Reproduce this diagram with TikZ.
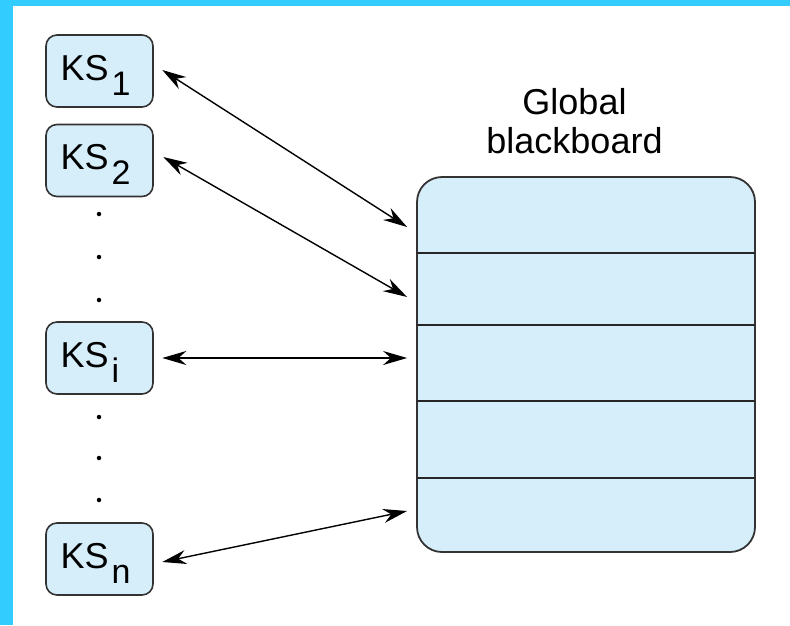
\documentclass[tikz,border=0pt]{standalone}
\usepackage{fontspec}
\setmainfont{Liberation Sans}
\usetikzlibrary{arrows.meta}
\definecolor{bandcyan}{HTML}{33CCFF}
\definecolor{boxfill}{HTML}{D6EEFA}
\definecolor{boxline}{HTML}{333333}
\newcommand\kssub[1]{\kern3pt\raisebox{-15pt}{\fontsize{34}{34}\selectfont #1}}
\tikzset{
  ksbox/.style={draw=boxline, fill=boxfill, line width=1.6pt, rounded corners=11pt,
    minimum width=107pt, minimum height=72pt, inner sep=0pt},
  kstext/.style={anchor=base west, inner sep=0pt, font=\fontsize{36}{40}\selectfont},
  bbbox/.style={draw=boxline, fill=boxfill, line width=1.8pt, rounded corners=25pt,
    minimum width=338pt, minimum height=375pt, inner sep=0pt},
  rowline/.style={draw=black!85, line width=1.6pt},
  arr/.style={{Stealth[length=24pt,width=14pt]}-{Stealth[length=24pt,width=14pt]}, line width=1.4pt, black},
  dotmark/.style={fill=black, circle, inner sep=0pt, minimum size=4.5pt}
}
\begin{document}
\begin{tikzpicture}[x=1pt,y=-1pt]
\useasboundingbox (0,0) rectangle (790,625);
\fill[white] (0,0) rectangle (790,625);
\fill[bandcyan] (0,0) rectangle (790,6);
\fill[bandcyan] (0,0) rectangle (13,625);

% knowledge sources
\node[ksbox] (ks1) at (99.5,71) {};
\node[ksbox] (ks2) at (99.5,160.5) {};
\node[ksbox] (ksi) at (99.5,358) {};
\node[ksbox] (ksn) at (99.5,559) {};
\node[kstext] (t1) at (60.5,80) {KS\kssub{1}};
\node[kstext] (t2) at (60.5,169) {KS\kssub{2}};
\node[kstext] (ti) at (60.5,367) {KS\kssub{i}};
\node[kstext] (tn) at (60.5,568) {KS\kssub{n}};

% dots
\node[dotmark] (d1) at (99,214) {};
\node[dotmark] (d2) at (99,257) {};
\node[dotmark] (d3) at (99,300) {};
\node[dotmark] (d4) at (99,417) {};
\node[dotmark] (d5) at (99,458) {};
\node[dotmark] (d6) at (99,500) {};

% blackboard
\node[bbbox] (bb) at (586,364.5) {};
\draw[rowline] (417,253) -- (755,253);
\draw[rowline] (417,325) -- (755,325);
\draw[rowline] (417,401) -- (755,401);
\draw[rowline] (417,478) -- (755,478);
\node[align=center, font=\fontsize{36}{39}\selectfont, inner sep=0pt, anchor=base] (lbl) at (574.5,153) {Global\\blackboard};

% connectors
\draw[arr] ([xshift=8.5pt,yshift=1pt]ks1.east) -- ([xshift=-9pt,yshift=137.5pt]bb.west);
\draw[arr] ([xshift=9.5pt,yshift=3.5pt]ks2.east) -- ([xshift=-9pt,yshift=67.5pt]bb.west);
\draw[arr] ([xshift=8.5pt]ksi.east) -- ([xshift=-9pt,yshift=6.5pt]bb.west);
\draw[arr] ([xshift=8.5pt,yshift=-3pt]ksn.east) -- ([xshift=-9pt,yshift=-146.5pt]bb.west);
\end{tikzpicture}
\end{document}
